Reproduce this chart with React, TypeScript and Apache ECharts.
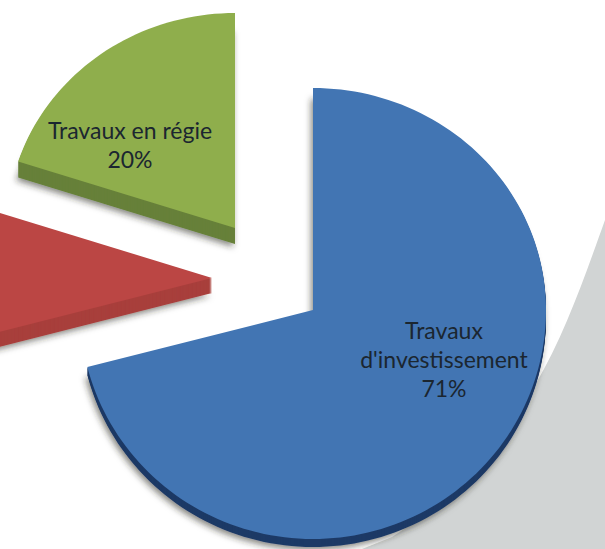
import React, { useEffect, useRef } from "react";
import * as echarts from "echarts";

const categories = ["Travaux\nd'investissement", "", "Travaux en régie"];
const shares = [71, 9, 20];
const percentLabels = ["71%", "", "20%"];

const topColors = ["#4275b3", "#bb4644", "#8fae4c"];
const rimColors = ["#1d3a66", "#a83f3c", "#67803a"];
const apexX = [313, 212, 235];
const apexY = [310, 278, 228];
const radiusX = [233, 235, 228];
const radiusUp = [222, 222, 215];
const radiusDown = [229, 232, 225];
const rimDepth = [8, 15, 16];
const labelX = [444, 0, 130];
const labelY = [359, 0, 144];

echarts.graphic.registerShape(
  "backdrop",
  echarts.graphic.extendPath(
    "M605 220 C587 270 565 335 535 385 C500 445 450 500 392 537 L362 549 L605 549 Z",
    {}
  ) as any
);

function slicePoints(index: number, start: number, end: number, depth: number) {
  const pts: number[][] = [[apexX[index], apexY[index] + depth]];
  const steps = Math.max(12, Math.round((end - start) / 0.03));
  for (let i = 0; i <= steps; i++) {
    const a = start + ((end - start) * i) / steps;
    const sin = Math.sin(a);
    const cos = Math.cos(a);
    const ry = cos > 0 ? radiusUp[index] : radiusDown[index];
    pts.push([apexX[index] + radiusX[index] * sin, apexY[index] - ry * cos + depth]);
  }
  return pts;
}

export default function App() {
  const ref = useRef<HTMLDivElement>(null);
  useEffect(() => {
    document.body.style.margin = "0";
    const chart = echarts.init(ref.current!, null, { renderer: "svg" });
    const total = shares.reduce((a, b) => a + b, 0);
    const starts: number[] = [];
    shares.reduce((acc, v, i) => {
      starts[i] = acc;
      return acc + v;
    }, 0);
    chart.setOption({
      animation: false,
      backgroundColor: "#ffffff",
      graphic: [
        {
          type: "backdrop",
          z: -1,
          silent: true,
          style: { fill: "#d1d4d4" },
        },
      ],
      series: [
        {
          type: "custom",
          coordinateSystem: "none",
          silent: true,
          clip: false,
          data: shares.map((v, i) => ({ value: [v, i], name: categories[i] })),
          renderItem: (_p: any, api: any) => {
            const i = api.value(1) as number;
            const start = (starts[i] / total) * Math.PI * 2;
            const end = ((starts[i] + (api.value(0) as number)) / total) * Math.PI * 2;
            const children: any[] = [];
            const d = rimDepth[i];
            children.push({
              type: "polygon",
              shape: { points: slicePoints(i, start, end, d) },
              style: {
                fill: rimColors[i],
                shadowBlur: 6,
                shadowOffsetX: -2,
                shadowOffsetY: 3,
                shadowColor: "rgba(40,40,30,0.55)",
              },
            });
            for (let k = d - 1; k > 0; k--) {
              children.push({
                type: "polygon",
                shape: { points: slicePoints(i, start, end, k) },
                style: { fill: rimColors[i] },
              });
            }
            children.push({
              type: "polygon",
              shape: { points: slicePoints(i, start, end, 0) },
              style: { fill: topColors[i] },
            });
            if (categories[i]) {
              children.push({
                type: "text",
                style: {
                  x: labelX[i],
                  y: labelY[i],
                  text: categories[i] + "\n" + percentLabels[i],
                  fill: "#1b2630",
                  font: '23px Lato, "Open Sans", sans-serif',
                  lineHeight: 29,
                  align: "center",
                  verticalAlign: "middle",
                },
              });
            }
            return { type: "group", children };
          },
        },
      ],
    });
    return () => chart.dispose();
  }, []);
  return <div ref={ref} style={{ position: "absolute", left: 0, top: 0, width: 605, height: 549 }} />;
}
